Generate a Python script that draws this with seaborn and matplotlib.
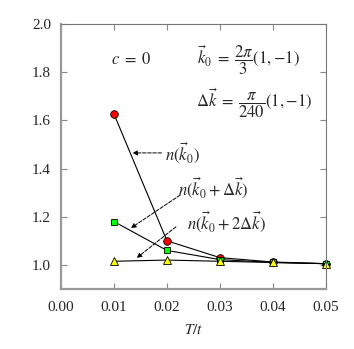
import matplotlib
matplotlib.use("Agg")
import matplotlib.pyplot as plt
import seaborn as sns

# data
temps = [0.01, 0.02, 0.03, 0.04, 0.05]
n_k0 = [1.627, 1.100, 1.030, 1.012, 1.005]
n_k0_dk = [1.180, 1.060, 1.022, 1.010, 1.005]
n_k0_2dk = [1.015, 1.020, 1.015, 1.010, 1.005]

x_ticks = [0.00, 0.01, 0.02, 0.03, 0.04, 0.05]
y_ticks = [1.0, 1.2, 1.4, 1.6, 1.8, 2.0]

sns.set_style("ticks")
plt.rcParams['font.family'] = ['Liberation Serif', 'DejaVu Serif']
plt.rcParams['mathtext.fontset'] = 'stix'

fig = plt.figure(figsize=(3.54, 3.49), dpi=100)
ax = fig.add_axes([0.172, 0.172, 0.749, 0.759])

series = [
    (n_k0, 'o', 'red', 5.5),
    (n_k0_dk, 's', '#00ff00', 5),
    (n_k0_2dk, '^', 'yellow', 6),
]
for vals, mk, col, ms in series:
    sns.lineplot(x=temps, y=vals, ax=ax, color='black', lw=0.8,
                 marker=mk, markersize=ms, markerfacecolor=col,
                 markeredgecolor='black', markeredgewidth=0.6, clip_on=False)

ax.set_xlim(0.0, 0.05)
ax.set_ylim(0.9, 2.0)
ax.set_xticks(x_ticks)
ax.set_xticklabels([f"{v:.2f}" for v in x_ticks])
ax.set_yticks(y_ticks)
ax.set_yticklabels([f"{v:.1f}" for v in y_ticks])
ax.tick_params(direction='in', length=4, width=0.8, color='#888888',
               top=True, right=True, labelsize=11)
ax.tick_params(axis='x', pad=9)
ax.tick_params(axis='y', pad=7)
for side in ['top', 'right']:
    ax.spines[side].set_color('#777777')
    ax.spines[side].set_linewidth(0.8)
for side in ['left', 'bottom']:
    ax.spines[side].set_color('#999999')
    ax.spines[side].set_linewidth(1.6)

ax.set_xlabel(r'$T/t$', fontsize=11, labelpad=6)

ax.text(0.0132, 1.85, r'$c\;=\;0$', fontsize=12, ha='center', va='center')
ax.text(0.0257, 1.85, r'$\vec{k}_0\;=\;\dfrac{2\pi}{3}(1,{-}1)$', fontsize=12,
        ha='left', va='center')
ax.text(0.0255, 1.672, r'$\Delta\vec{k}\;=\;\dfrac{\pi}{240}(1,{-}1)$', fontsize=12,
        ha='left', va='center')

arrow = dict(arrowstyle='-|>', linestyle='--', lw=0.7, color='black',
             mutation_scale=7, shrinkA=0, shrinkB=0)
ax.annotate(r'$n(\vec{k}_0)$', xy=(0.0135, 1.465), xytext=(0.0196, 1.465),
            fontsize=12, va='center', arrowprops=arrow)
ax.annotate('', xy=(0.0132, 1.153), xytext=(0.0225, 1.29),
            arrowprops=arrow)
ax.text(0.0221, 1.32, r'$n(\vec{k}_0 + \Delta\vec{k})$', fontsize=12,
        ha='left', va='center')
ax.annotate('', xy=(0.0143, 1.029), xytext=(0.0217, 1.158),
            arrowprops=arrow)
ax.text(0.0238, 1.18, r'$n(\vec{k}_0 + 2\Delta\vec{k})$', fontsize=12,
        ha='left', va='center')

fig.savefig('out.png', dpi=100)
